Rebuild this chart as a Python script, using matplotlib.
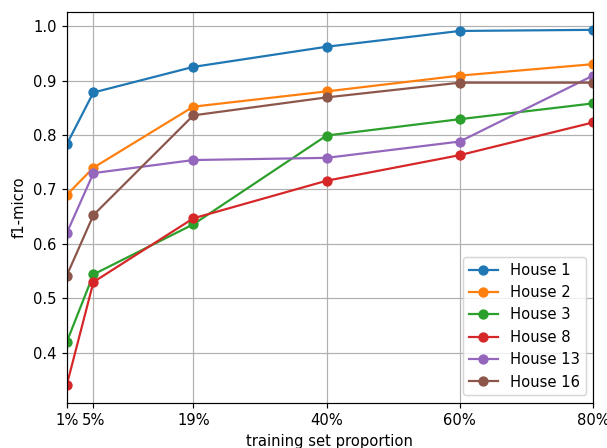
import matplotlib
matplotlib.use('Agg')
import matplotlib.pyplot as plt

proportions = [0.01, 0.05, 0.2, 0.4, 0.6, 0.8]
tick_labels = ['1%', '5%', '19%', '40%', '60%', '80%']

house_1 = [0.783, 0.878, 0.925, 0.962, 0.991, 0.993]
house_2 = [0.690, 0.740, 0.852, 0.880, 0.909, 0.930]
house_3 = [0.420, 0.544, 0.636, 0.799, 0.829, 0.858]
house_8 = [0.341, 0.530, 0.647, 0.716, 0.763, 0.823]
house_13 = [0.620, 0.730, 0.754, 0.758, 0.788, 0.909]
house_16 = [0.542, 0.653, 0.836, 0.869, 0.896, 0.896]

series = [('House 1', house_1), ('House 2', house_2), ('House 3', house_3),
          ('House 8', house_8), ('House 13', house_13), ('House 16', house_16)]


def main():
    dpi = 106
    fig = plt.figure(figsize=(607 / dpi, 448 / dpi), dpi=dpi)
    ax = fig.add_axes([0.110, 0.101, 0.867, 0.872])

    for name, vals in series:
        ax.plot(proportions, vals, marker='o', label=name)

    ax.set_xlim(proportions[0], proportions[-1])
    ax.set_xticks(proportions)
    ax.set_xticklabels(tick_labels)
    ax.set_xlabel('training set proportion')
    ax.set_ylabel('f1-micro')
    ax.grid(True)
    ax.legend(loc='lower right')

    fig.savefig('out.png', dpi=dpi)


if __name__ == '__main__':
    main()
